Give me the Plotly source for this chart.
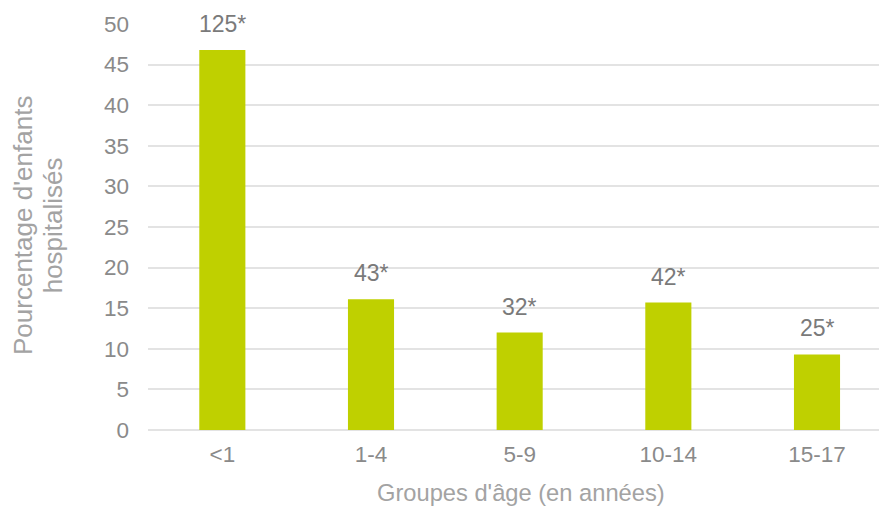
import plotly.graph_objects as go

categories = ["<1", "1-4", "5-9", "10-14", "15-17"]
values = [46.8, 16.1, 12.0, 15.7, 9.3]
labels = ["125*", "43*", "32*", "42*", "25*"]
y_ticks = [0, 5, 10, 15, 20, 25, 30, 35, 40, 45, 50]
y_title_lines = ["Pourcentage d'enfants", "hospitalisés"]
x_title = "Groupes d'âge (en années)"

FONT = "Liberation Sans, Arial, sans-serif"

fig = go.Figure()
fig.add_trace(go.Bar(
    x=list(range(len(categories))),
    y=values,
    width=0.31,
    marker=dict(color="#BFD000", line=dict(width=0)),
    hoverinfo="skip",
))

for i, (v, t) in enumerate(zip(values, labels)):
    fig.add_annotation(x=i, y=v, text=t, showarrow=False, xref="x", yref="y",
                       yanchor="bottom", yshift=11,
                       font=dict(family=FONT, size=23, color="#7a7a7a"))

for xp, line in zip([-0.171, -0.1295], y_title_lines):
    fig.add_annotation(text=line, xref="paper", yref="paper",
                       x=xp, y=0.505, xanchor="center", yanchor="middle", textangle=-90,
                       showarrow=False, font=dict(family=FONT, size=26, color="#a3a3a3"))
fig.add_annotation(text=x_title, xref="paper", yref="paper",
                   x=0.510, y=-0.155, xanchor="center", yanchor="middle",
                   showarrow=False, font=dict(family=FONT, size=23.7, color="#a3a3a3"))

fig.update_layout(
    width=879, height=508,
    margin=dict(l=148, r=0, t=24, b=78, autoexpand=False),
    paper_bgcolor="white", plot_bgcolor="white",
    showlegend=False,
    xaxis=dict(
        tickmode="array", tickvals=list(range(len(categories))), ticktext=categories,
        range=[-0.5, 4.417], showgrid=False, zeroline=False, showline=False,
        ticks="", ticklabelstandoff=8, tickfont=dict(family=FONT, size=22.5, color="#8a8a8a"),
    ),
    yaxis=dict(
        range=[0, 50], tickvals=y_ticks, showgrid=True, gridcolor="#e3e3e3", gridwidth=2,
        zeroline=True, zerolinecolor="#e3e3e3", zerolinewidth=2, showline=False,
        ticks="", ticklabelstandoff=18, tickfont=dict(family=FONT, size=22.5, color="#8a8a8a"),
    ),
)

fig.write_html("out.html")
